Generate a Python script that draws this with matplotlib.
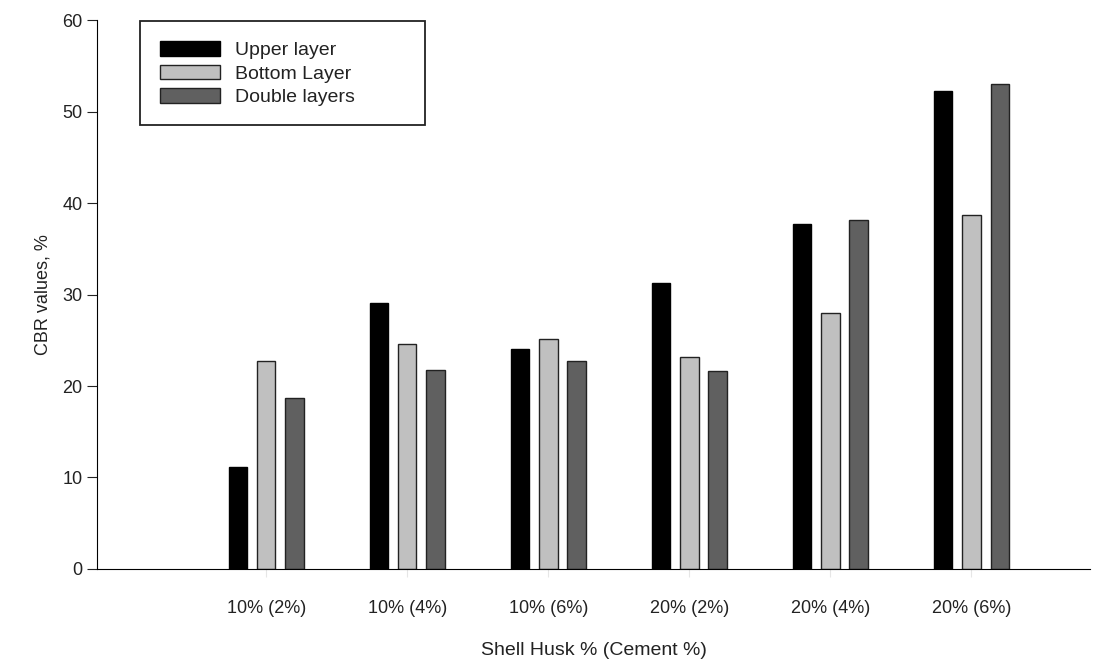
import matplotlib.pyplot as plt
from matplotlib.patches import Rectangle
import numpy as np

plt.rcParams['font.family'] = ['Liberation Sans', 'DejaVu Sans']

# datos
categorias = ['10% (2%)', '10% (4%)', '10% (6%)', '20% (2%)', '20% (4%)', '20% (6%)']
upper = [11.1, 29.1, 24.0, 31.3, 37.7, 52.2]
bottom = [22.7, 24.6, 25.1, 23.2, 28.0, 38.7]
double = [18.7, 21.7, 22.7, 21.6, 38.1, 53.0]

x = np.arange(len(categorias))
w = 0.13
off = 0.2

fig = plt.figure(figsize=(11.05, 6.69), dpi=100)
ax = fig.add_axes([0.0878, 0.1495, 0.8986, 0.8205])

ax.bar(x - off, upper, w, color='black', edgecolor='black', linewidth=1, label='Upper layer')
ax.bar(x, bottom, w, color='#c0c0c0', edgecolor='#222222', linewidth=1, label='Bottom Layer')
ax.bar(x + off, double, w, color='#606060', edgecolor='#222222', linewidth=1, label='Double layers')

ax.set_xlim(-1.2, 5.84)
ax.set_ylim(0, 60)
ax.set_yticks(range(0, 61, 10))
ax.set_xticks(x)
ax.set_xticklabels(categorias)

ax.spines['top'].set_visible(False)
ax.spines['right'].set_visible(False)
ax.tick_params(axis='y', direction='out', length=7, labelsize=13, colors='#222222')
ax.tick_params(axis='x', length=6, color='#e6e6e6', pad=16, labelsize=13, labelcolor='#222222')

ax.set_ylabel('CBR values, %', fontsize=13, labelpad=8, color='#222222')
ax.set_xlabel('Shell Husk % (Cement %)', fontsize=14, labelpad=18, color='#222222')

# marco de la leyenda
ax.add_patch(Rectangle((0.0433, 0.8087), 0.287, 0.19, transform=ax.transAxes,
                       fill=False, edgecolor='#222222', linewidth=1.3, clip_on=False, zorder=4))
leg = ax.legend(loc='upper left', bbox_to_anchor=(0.0634, 0.962), fontsize=14, frameon=False,
                handlelength=3.1, handleheight=0.8, labelspacing=0.28, borderpad=0,
                borderaxespad=0, handletextpad=0.75)
for t in leg.get_texts():
    t.set_color('#222222')

plt.savefig('out.png', dpi=100)
